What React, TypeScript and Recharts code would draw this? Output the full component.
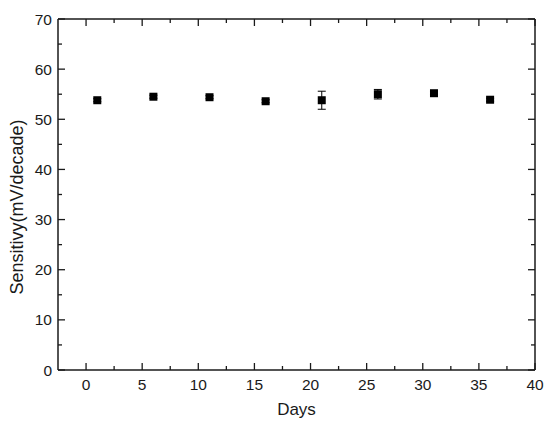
import React from "react";
import { ScatterChart, Scatter, XAxis, YAxis, ErrorBar, Label } from "recharts";

const days = [1, 6, 11, 16, 21, 26, 31, 36];
const sensitivity = [53.8, 54.5, 54.4, 53.6, 53.8, 55.0, 55.2, 53.9];
const errors = [0.3, 0.3, 0.3, 0.3, 1.8, 0.95, 0.3, 0.3];

const xTicks = [0, 2.5, 5, 7.5, 10, 12.5, 15, 17.5, 20, 22.5, 25, 27.5, 30, 32.5, 35, 37.5, 40];
const yTicks = [0, 5, 10, 15, 20, 25, 30, 35, 40, 45, 50, 55, 60, 65, 70];

const data = days.map((d, i) => ({ day: d, s: sensitivity[i], err: errors[i] }));

const FONT = "'Liberation Sans', Arial, sans-serif";
const INK = "#1a1a1a";

// plot frame edges (follow from the chart margins and axis sizes below)
const LEFT = 58;
const RIGHT = 535;
const TOP = 19;
const BOTTOM = 370;

// ticks point inward; long ones on labelled values, short ones between
const BottomTick = (p: any) => {
  const v = p.payload.value;
  const major = v % 5 === 0;
  return (
    <g>
      <line x1={p.x} x2={p.x} y1={BOTTOM} y2={BOTTOM - (major ? 7 : 4)} stroke={INK} strokeWidth={1.3} />
      {major && (
        <text x={p.x} y={BOTTOM + 20} textAnchor="middle" fontSize={15.5} fill={INK} fontFamily={FONT}>
          {v}
        </text>
      )}
    </g>
  );
};

const TopTick = (p: any) => {
  const major = p.payload.value % 5 === 0;
  return <line x1={p.x} x2={p.x} y1={TOP} y2={TOP + (major ? 7 : 4)} stroke={INK} strokeWidth={1.3} />;
};

const LeftTick = (p: any) => {
  const v = p.payload.value;
  const major = v % 10 === 0;
  return (
    <g>
      <line x1={LEFT} x2={LEFT + (major ? 7 : 4)} y1={p.y} y2={p.y} stroke={INK} strokeWidth={1.3} />
      {major && (
        <text x={LEFT - 6} y={p.y} dy="0.36em" textAnchor="end" fontSize={15.5} fill={INK} fontFamily={FONT}>
          {v}
        </text>
      )}
    </g>
  );
};

const RightTick = (p: any) => {
  const major = p.payload.value % 10 === 0;
  return <line x1={RIGHT} x2={RIGHT - (major ? 7 : 4)} y1={p.y} y2={p.y} stroke={INK} strokeWidth={1.3} />;
};

const SquareDot = (p: any) => (
  <rect x={p.cx - 4} y={p.cy - 4} width={8} height={8} fill="#000" />
);

const NoDot = () => <g />;

const axisLine = { stroke: INK, strokeWidth: 1.5 };

export default function App() {
  return (
    <div style={{ position: "absolute", left: 0, top: 0, background: "#fff" }}>
      {/* mirror axes need a size of at least 1px or recharts skips them */}
      <ScatterChart width={550} height={430} margin={{ top: TOP - 1, right: 550 - RIGHT - 1, left: 0, bottom: 0 }}>
        <XAxis
          xAxisId="b"
          type="number"
          dataKey="day"
          domain={[-2.5, 40]}
          ticks={xTicks}
          interval={0}
          allowDataOverflow
          height={430 - BOTTOM}
          tickLine={false}
          axisLine={axisLine}
          tick={<BottomTick />}
        >
          <Label
            content={(lp: any) => {
              const vb = lp.viewBox;
              return (
                <text x={vb.x + vb.width / 2} y={BOTTOM + 45} textAnchor="middle" fontSize={17} fill={INK} fontFamily={FONT}>
                  Days
                </text>
              );
            }}
          />
        </XAxis>
        <XAxis
          xAxisId="t"
          orientation="top"
          type="number"
          dataKey="day"
          domain={[-2.5, 40]}
          ticks={xTicks}
          interval={0}
          allowDataOverflow
          height={1}
          tickLine={false}
          axisLine={axisLine}
          tick={<TopTick />}
        />
        <YAxis
          yAxisId="l"
          type="number"
          dataKey="s"
          domain={[0, 70]}
          ticks={yTicks}
          interval={0}
          allowDataOverflow
          width={LEFT}
          tickLine={false}
          axisLine={axisLine}
          tick={<LeftTick />}
        >
          <Label
            content={() => {
              const cx = 17;
              const cy = 207;
              return (
                <text
                  x={cx}
                  y={cy}
                  transform={`rotate(-90 ${cx} ${cy})`}
                  textAnchor="middle"
                  dy="0.36em"
                  fontSize={18}
                  fill={INK}
                  fontFamily={FONT}
                >
                  Sensitivy(mV/decade)
                </text>
              );
            }}
          />
        </YAxis>
        <YAxis
          yAxisId="r"
          orientation="right"
          type="number"
          dataKey="s"
          domain={[0, 70]}
          ticks={yTicks}
          interval={0}
          allowDataOverflow
          width={1}
          tickLine={false}
          axisLine={axisLine}
          tick={<RightTick />}
        />
        {/* invisible copy so the mirror axes (top/right) get drawn */}
        <Scatter
          data={data}
          xAxisId="t"
          yAxisId="r"
          dataKey="s"
          shape={<NoDot />}
          isAnimationActive={false}
        />
        <Scatter
          data={data}
          xAxisId="b"
          yAxisId="l"
          dataKey="s"
          shape={<SquareDot />}
          isAnimationActive={false}
        >
          <ErrorBar dataKey="err" direction="y" width={4} stroke="#000" strokeWidth={1} />
        </Scatter>
      </ScatterChart>
    </div>
  );
}
